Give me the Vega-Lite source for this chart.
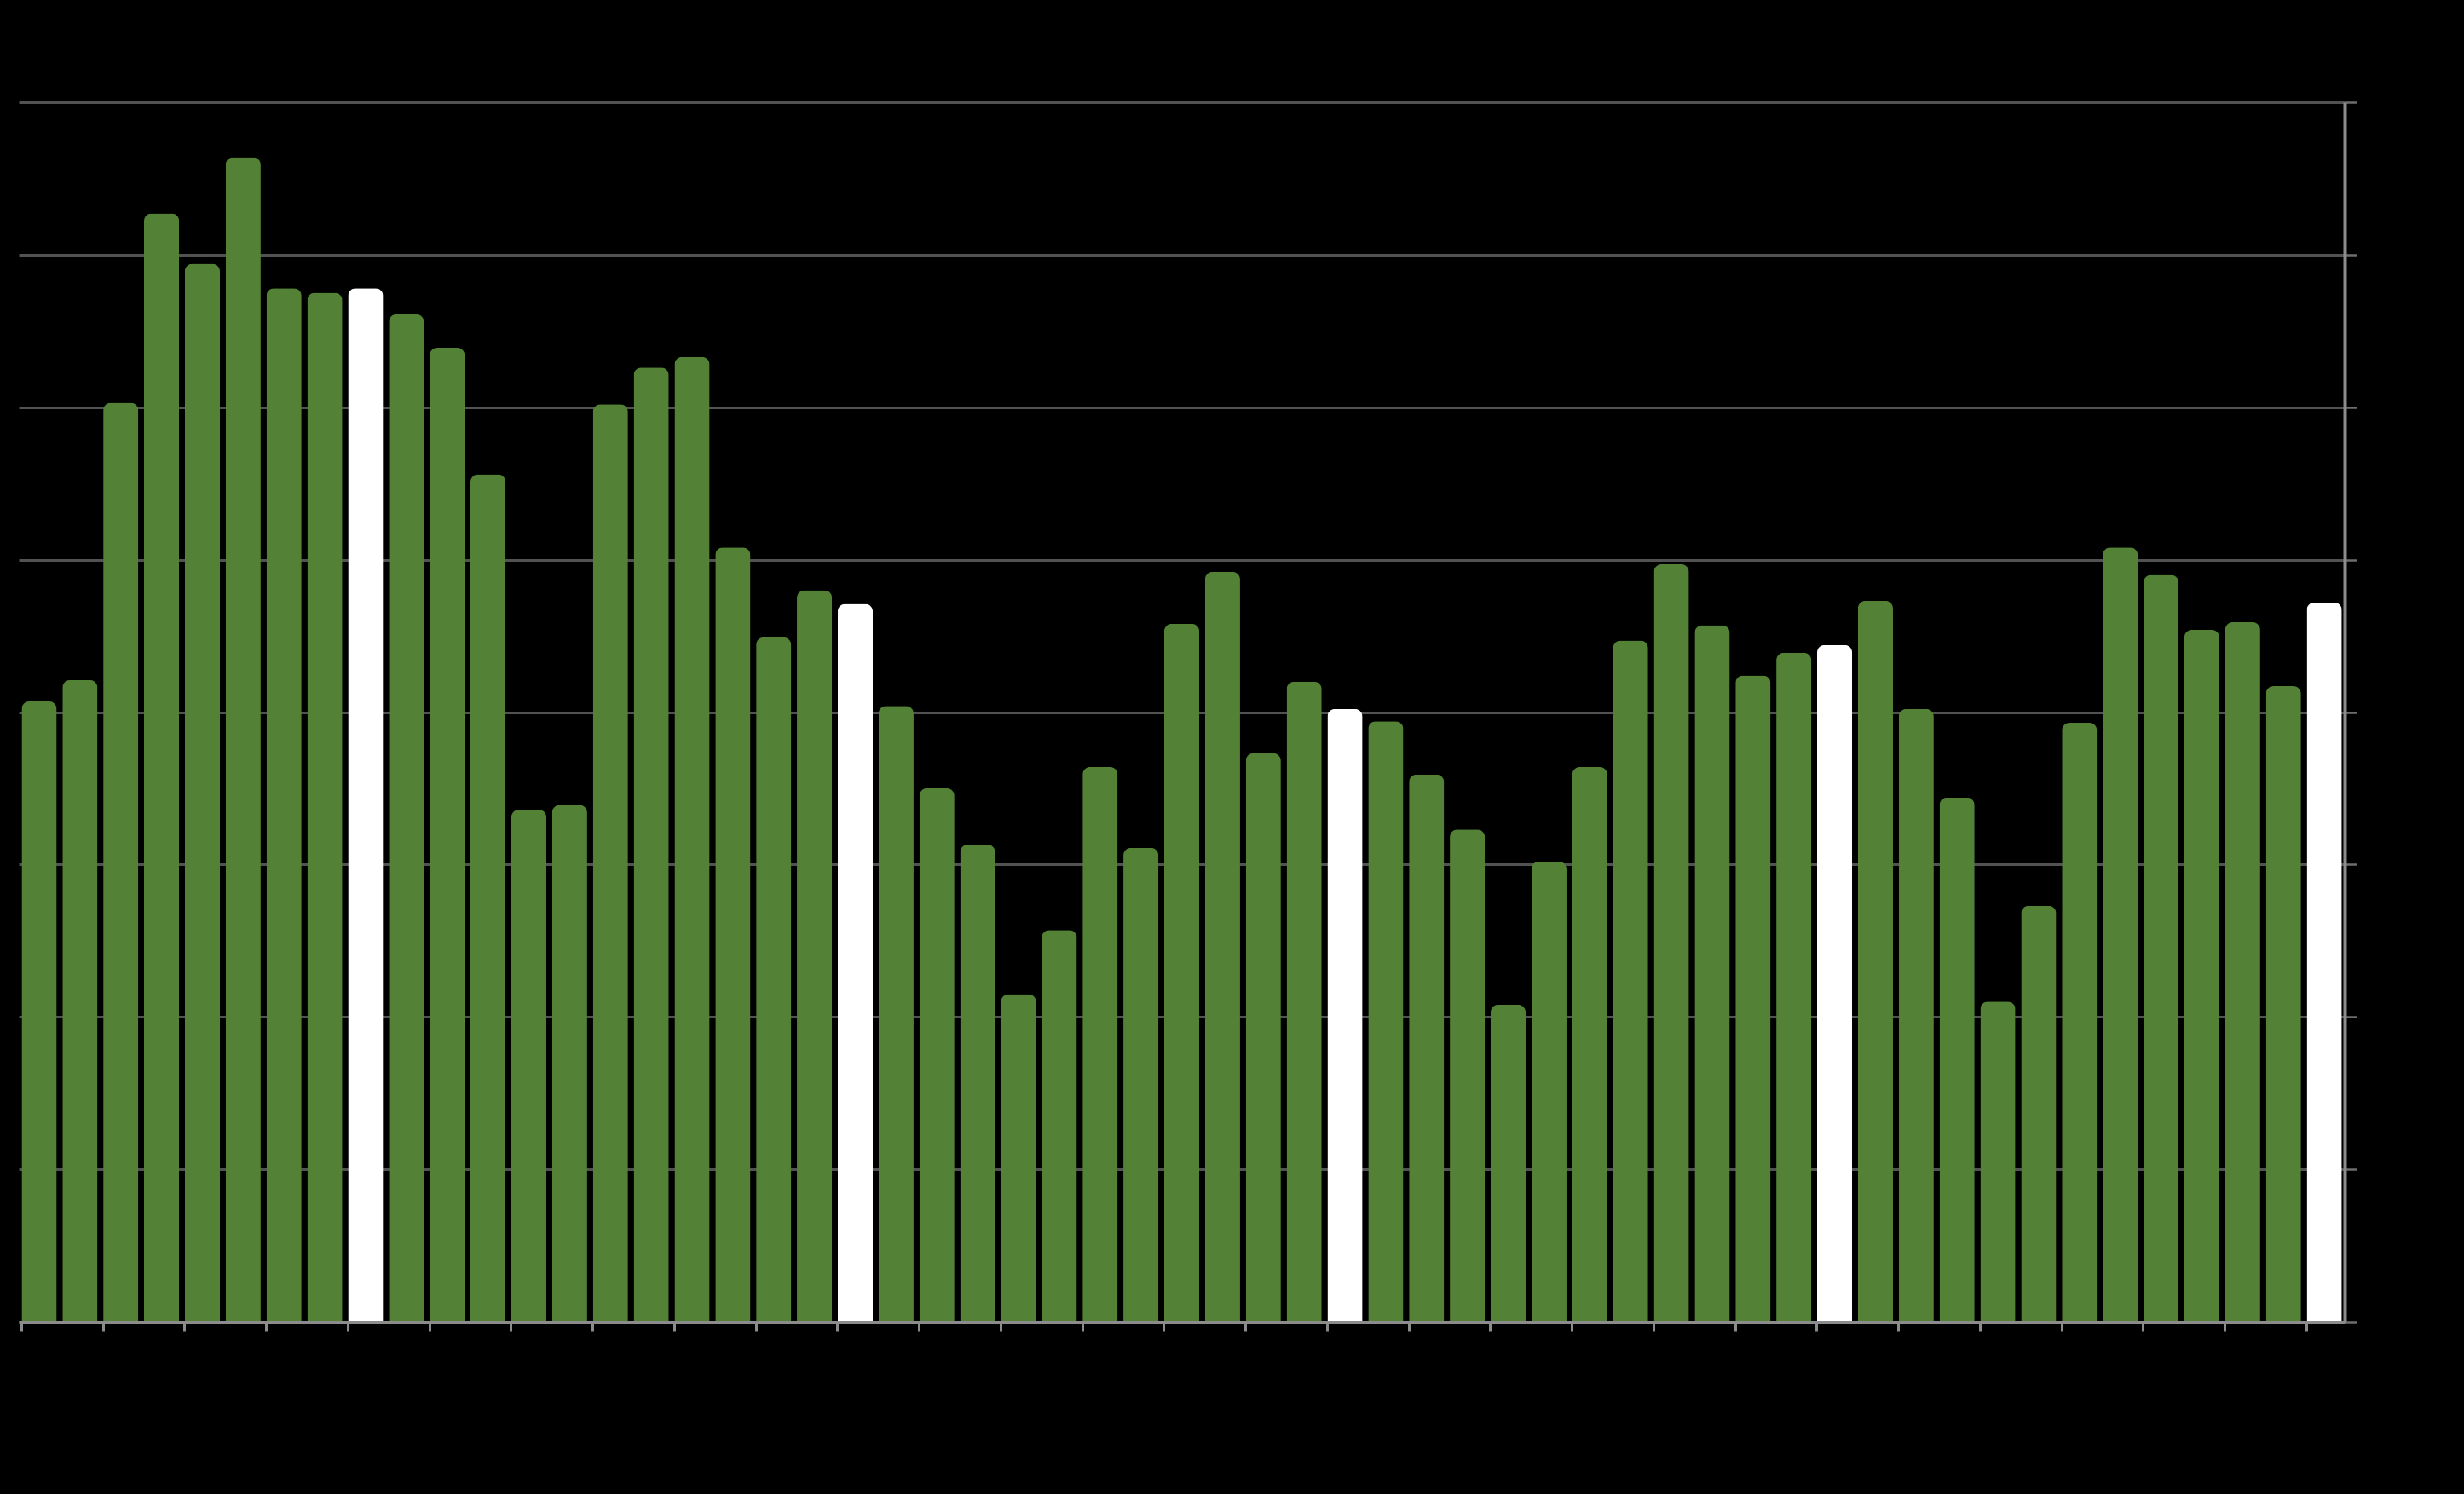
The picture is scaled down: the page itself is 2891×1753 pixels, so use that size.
{
  "$schema": "https://vega.github.io/schema/vega-lite/v6.json",
  "background": "#000000",
  "autosize": {"type": "none"},
  "padding": {"left": 22, "top": 120, "right": 140, "bottom": 202},
  "width": 2729,
  "height": 1431,
  "config": {"view": {"stroke": null}},
  "data": {
    "values": [
      {"i": 0, "v": 40.7, "g": "a"},
      {"i": 1, "v": 42.1, "g": "a"},
      {"i": 2, "v": 60.3, "g": "a"},
      {"i": 3, "v": 72.7, "g": "a"},
      {"i": 4, "v": 69.4, "g": "a"},
      {"i": 5, "v": 76.4, "g": "a"},
      {"i": 6, "v": 67.8, "g": "a"},
      {"i": 7, "v": 67.5, "g": "a"},
      {"i": 8, "v": 67.8, "g": "b"},
      {"i": 9, "v": 66.1, "g": "a"},
      {"i": 10, "v": 63.9, "g": "a"},
      {"i": 11, "v": 55.6, "g": "a"},
      {"i": 12, "v": 33.6, "g": "a"},
      {"i": 13, "v": 33.9, "g": "a"},
      {"i": 14, "v": 60.2, "g": "a"},
      {"i": 15, "v": 62.6, "g": "a"},
      {"i": 16, "v": 63.3, "g": "a"},
      {"i": 17, "v": 50.8, "g": "a"},
      {"i": 18, "v": 44.9, "g": "a"},
      {"i": 19, "v": 48.0, "g": "a"},
      {"i": 20, "v": 47.1, "g": "b"},
      {"i": 21, "v": 40.4, "g": "a"},
      {"i": 22, "v": 35.0, "g": "a"},
      {"i": 23, "v": 31.3, "g": "a"},
      {"i": 24, "v": 21.5, "g": "a"},
      {"i": 25, "v": 25.7, "g": "a"},
      {"i": 26, "v": 36.4, "g": "a"},
      {"i": 27, "v": 31.1, "g": "a"},
      {"i": 28, "v": 45.8, "g": "a"},
      {"i": 29, "v": 49.2, "g": "a"},
      {"i": 30, "v": 37.3, "g": "a"},
      {"i": 31, "v": 42.0, "g": "a"},
      {"i": 32, "v": 40.2, "g": "b"},
      {"i": 33, "v": 39.4, "g": "a"},
      {"i": 34, "v": 35.9, "g": "a"},
      {"i": 35, "v": 32.3, "g": "a"},
      {"i": 36, "v": 20.8, "g": "a"},
      {"i": 37, "v": 30.2, "g": "a"},
      {"i": 38, "v": 36.4, "g": "a"},
      {"i": 39, "v": 44.7, "g": "a"},
      {"i": 40, "v": 49.7, "g": "a"},
      {"i": 41, "v": 45.7, "g": "a"},
      {"i": 42, "v": 42.4, "g": "a"},
      {"i": 43, "v": 43.9, "g": "a"},
      {"i": 44, "v": 44.4, "g": "b"},
      {"i": 45, "v": 47.3, "g": "a"},
      {"i": 46, "v": 40.2, "g": "a"},
      {"i": 47, "v": 34.4, "g": "a"},
      {"i": 48, "v": 21.0, "g": "a"},
      {"i": 49, "v": 27.3, "g": "a"},
      {"i": 50, "v": 39.3, "g": "a"},
      {"i": 51, "v": 50.8, "g": "a"},
      {"i": 52, "v": 49.0, "g": "a"},
      {"i": 53, "v": 45.4, "g": "a"},
      {"i": 54, "v": 45.9, "g": "a"},
      {"i": 55, "v": 41.7, "g": "a"},
      {"i": 56, "v": 47.2, "g": "b"}
    ]
  },
  "mark": {"type": "bar", "cornerRadiusTopLeft": 9, "cornerRadiusTopRight": 9},
  "encoding": {
    "x": {
      "field": "i",
      "type": "ordinal",
      "scale": {"paddingInner": 0.14, "paddingOuter": 0.07},
      "axis": {
        "title": null,
        "labels": false,
        "values": [0, 2, 4, 6, 8, 10, 12, 14, 16, 18, 20, 22, 24, 26, 28, 30, 32, 34, 36, 38, 40, 42, 44, 46, 48, 50, 52, 54, 56],
        "bandPosition": 0,
        "domainColor": "#8c8c8c",
        "domainWidth": 3,
        "tickColor": "#8c8c8c",
        "tickWidth": 3,
        "tickSize": 11,
        "grid": false,
        "zindex": 1
      }
    },
    "y": {
      "field": "v",
      "type": "quantitative",
      "scale": {"domain": [0, 80], "nice": false},
      "axis": {
        "orient": "right",
        "title": null,
        "labels": false,
        "values": [0, 10, 20, 30, 40, 50, 60, 70, 80],
        "domainColor": "#8c8c8c",
        "domainWidth": 4,
        "tickColor": "#6e6e6e",
        "tickWidth": 2.5,
        "tickSize": 14,
        "grid": true,
        "gridColor": "#525252",
        "gridWidth": 3
      }
    },
    "color": {
      "field": "g",
      "type": "nominal",
      "scale": {"domain": ["a", "b"], "range": ["#538135", "#ffffff"]},
      "legend": null
    }
  }
}
